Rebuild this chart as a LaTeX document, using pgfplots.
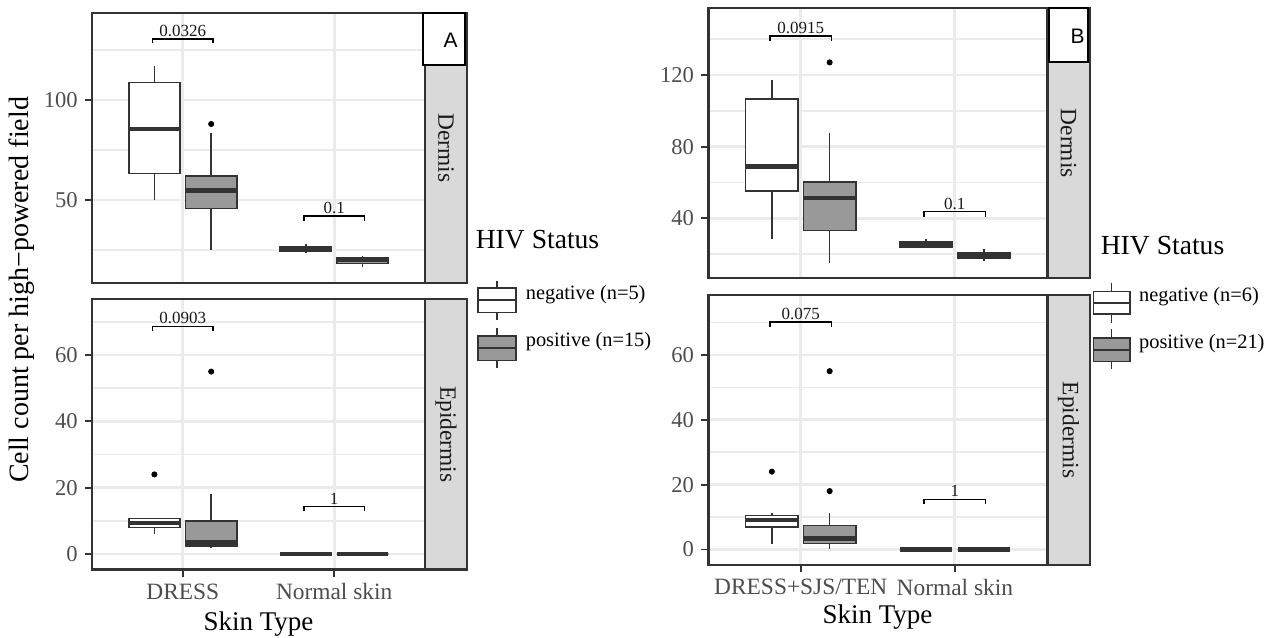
\documentclass[border=0pt]{standalone}
\usepackage{pgfplots}
\pgfplotsset{compat=1.18}
\usepgfplotslibrary{statistics}
\usepackage{fontspec}
\setmainfont{Liberation Serif}
\newfontfamily\sansA{Liberation Sans}
\definecolor{g20}{HTML}{333333}
\definecolor{g30}{HTML}{4D4D4D}
\definecolor{g10}{HTML}{1A1A1A}
\definecolor{g60}{HTML}{999999}
\definecolor{g85}{HTML}{D9D9D9}
\definecolor{g92}{HTML}{EBEBEB}
\tikzset{brl/.style={font=\fontsize{8.5}{8.5}\selectfont, anchor=south, inner sep=1pt, text=g10}}
\pgfplotsset{
  panel/.style={
    scale only axis, width=#1, height=135pt,
    xmin=0.4, xmax=2.6, xtick={1,2},
    axis line style={g20, line width=1.2pt},
    xmajorgrids, ymajorgrids, yminorgrids,
    major grid style={g92, line width=1.4pt},
    minor grid style={g92, line width=0.8pt},
    tick style={g20, line width=0.9pt},
    major tick length=3.6pt,
    minor tick length=0pt,
    tick align=outside,
    tick pos=left,
    /pgf/number format/assume math mode=true,
    yticklabel style={font=\fontsize{11.3}{11.3}\selectfont, text=g30},
    xticklabel style={font=\fontsize{11.7}{11.7}\selectfont, text=g30},
    boxplot/draw direction=y,
    boxplot/whisker extend=0,
    boxplot/box extend=0.34,
    boxplot/every whisker/.style={draw=g20, line width=0.8pt},
    boxplot/every median/.style={draw=g20, line width=2.2pt},
  },
  neg/.style={draw=g20, mark=*, mark size=1.3pt, mark options={fill=black, draw=black, solid},
    boxplot/every box/.style={draw=g20, line width=0.8pt, fill=white}},
  pos/.style={draw=g20, mark=*, mark size=1.3pt, mark options={fill=black, draw=black, solid},
    boxplot/every box/.style={draw=g20, line width=0.8pt, fill=g60}},
  br/.style={black, line width=0.7pt, mark=none},
}
\begin{document}
\begin{tikzpicture}
\useasboundingbox (0,0) rectangle (636.5pt,318.5pt);
%% ---------------- Panel A, Dermis
\begin{axis}[panel=166.5pt, at={(46pt,177pt)}, anchor=south west,
  ymin=8.5, ymax=143.5, ytick={50,100}, minor ytick={25,75,125},
  xticklabels={}, xtick style={draw=none}]
\addplot[neg, boxplot prepared={draw position=0.8125, lower whisker=50, lower quartile=63.3, median=85.5, upper quartile=108.7, upper whisker=117}] coordinates {};
\addplot[pos, boxplot prepared={draw position=1.1875, lower whisker=25, lower quartile=45.7, median=54.7, upper quartile=62, upper whisker=83.7}] table[row sep=\\, y index=0] {data\\ 88\\};
\addplot[neg, boxplot prepared={draw position=1.8125, lower whisker=23.5, lower quartile=24.3, median=25.5, upper quartile=26.6, upper whisker=28}] coordinates {};
\addplot[pos, boxplot prepared={draw position=2.1875, lower whisker=16.7, lower quartile=18.3, median=20, upper quartile=21.2, upper whisker=22}] coordinates {};
\addplot[br] coordinates {(0.8,128.3) (0.8,130.5) (1.2,130.5) (1.2,128.3)};
\addplot[br] coordinates {(1.8,39.7) (1.8,42) (2.2,42) (2.2,39.7)};
\node[brl] at (axis cs:1,130.5) {0.0326};
\node[brl] at (axis cs:2,42) {0.1};
\end{axis}
%% ---------------- Panel A, Epidermis
\begin{axis}[panel=166.5pt, at={(46pt,33.85pt)}, anchor=south west,
  ymin=-4.6, ymax=76.8, ytick={0,20,40,60}, minor ytick={10,30,50,70},
  xticklabels={DRESS,Normal skin}]
\addplot[neg, boxplot prepared={draw position=0.8125, lower whisker=5.9, lower quartile=8.0, median=9.3, upper quartile=10.7, upper whisker=11}] table[row sep=\\, y index=0] {data\\ 24\\};
\addplot[pos, boxplot prepared={draw position=1.1875, lower whisker=1.7, lower quartile=2.4, median=3.5, upper quartile=9.9, upper whisker=18}] table[row sep=\\, y index=0] {data\\ 55\\};
\addplot[neg, boxplot prepared={draw position=1.8125, lower whisker=0, lower quartile=0, median=0, upper quartile=0, upper whisker=0}] coordinates {};
\addplot[pos, boxplot prepared={draw position=2.1875, lower whisker=0, lower quartile=0, median=0, upper quartile=0, upper whisker=0}] coordinates {};
\addplot[br] coordinates {(0.8,67.1) (0.8,68.6) (1.2,68.6) (1.2,67.1)};
\addplot[br] coordinates {(1.8,12.9) (1.8,14.3) (2.2,14.3) (2.2,12.9)};
\node[brl] at (axis cs:1,68.6) {0.0903};
\node[brl] at (axis cs:2,14.3) {1};
\end{axis}
%% ---------------- Panel B, Dermis
\begin{axis}[panel=169.5pt, at={(354.15pt,179.35pt)}, anchor=south west,
  ymin=6.5, ymax=157.2, ytick={40,80,120}, minor ytick={20,60,100,140},
  xticklabels={}, xtick style={draw=none}]
\addplot[neg, boxplot prepared={draw position=0.8125, lower whisker=28.3, lower quartile=55.3, median=68.8, upper quartile=106.6, upper whisker=117.2}] coordinates {};
\addplot[pos, boxplot prepared={draw position=1.1875, lower whisker=14.9, lower quartile=33.1, median=51.2, upper quartile=60.4, upper whisker=87.8}] table[row sep=\\, y index=0] {data\\ 127\\};
\addplot[neg, boxplot prepared={draw position=1.8125, lower whisker=23.3, lower quartile=23.9, median=25.3, upper quartile=26.6, upper whisker=28.3}] coordinates {};
\addplot[pos, boxplot prepared={draw position=2.1875, lower whisker=16, lower quartile=17.6, median=19.3, upper quartile=21, upper whisker=22.7}] coordinates {};
\addplot[br] coordinates {(0.8,139) (0.8,141.8) (1.2,141.8) (1.2,139)};
\addplot[br] coordinates {(1.8,40.5) (1.8,43.7) (2.2,43.7) (2.2,40.5)};
\node[brl] at (axis cs:1,141.8) {0.0915};
\node[brl] at (axis cs:2,43.7) {0.1};
\end{axis}
%% ---------------- Panel B, Epidermis
\begin{axis}[panel=169.5pt, at={(354.15pt,36pt)}, anchor=south west,
  ymin=-4.8, ymax=78.5, ytick={0,20,40,60}, minor ytick={10,30,50,70},
  xticklabels={DRESS+SJS/TEN,Normal skin}]
\addplot[neg, boxplot prepared={draw position=0.8125, lower whisker=1.8, lower quartile=7, median=9, upper quartile=10.5, upper whisker=11.1}] table[row sep=\\, y index=0] {data\\ 24\\};
\addplot[pos, boxplot prepared={draw position=1.1875, lower whisker=0, lower quartile=1.8, median=3.4, upper quartile=7.4, upper whisker=11.3}] table[row sep=\\, y index=0] {data\\ 18\\ 55\\};
\addplot[neg, boxplot prepared={draw position=1.8125, lower whisker=0, lower quartile=0, median=0, upper quartile=0, upper whisker=0}] coordinates {};
\addplot[pos, boxplot prepared={draw position=2.1875, lower whisker=0, lower quartile=0, median=0, upper quartile=0, upper whisker=0}] coordinates {};
\addplot[br] coordinates {(0.8,68.7) (0.8,70.2) (1.2,70.2) (1.2,68.7)};
\addplot[br] coordinates {(1.8,14) (1.8,15.5) (2.2,15.5) (2.2,14)};
\node[brl] at (axis cs:1,70.2) {0.075};
\node[brl] at (axis cs:2,15.5) {1};
\end{axis}
%% ---------------- strips
\begin{scope}[line width=1.2pt]
\draw[g20, fill=g85] (212.5pt,177pt) rectangle (233.5pt,312pt);
\draw[g20, fill=g85] (212.5pt,33.85pt) rectangle (233.5pt,168.85pt);
\draw[g20, fill=g85] (523.65pt,179.35pt) rectangle (545pt,314.35pt);
\draw[g20, fill=g85] (523.65pt,36pt) rectangle (545pt,171pt);
\end{scope}
\node[rotate=-90, text=g10, font=\fontsize{11.7}{11.7}\selectfont] at (223pt,244.5pt) {Dermis};
\node[rotate=-90, text=g10, font=\fontsize{11.7}{11.7}\selectfont] at (223pt,101.35pt) {Epidermis};
\node[rotate=-90, text=g10, font=\fontsize{11.7}{11.7}\selectfont] at (534.3pt,246.85pt) {Dermis};
\node[rotate=-90, text=g10, font=\fontsize{11.7}{11.7}\selectfont] at (534.3pt,103.5pt) {Epidermis};
%% panel letters
\draw[black, fill=white, line width=1pt] (211.5pt,286pt) rectangle (232.5pt,312pt);
\node[font=\sansA\fontsize{10.5}{10.5}\selectfont] at (225.25pt,298.25pt) {A};
\draw[black, fill=white, line width=1pt] (524.67pt,287.65pt) rectangle (543.83pt,314.35pt);
\node[font=\sansA\fontsize{10.5}{10.5}\selectfont] at (538.75pt,300.17pt) {B};
%% axis titles
\node[rotate=90, font=\fontsize{14}{14}\selectfont] at (11pt,173.5pt) {Cell count per high−powered field};
\node[anchor=base, font=\fontsize{13.5}{13.5}\selectfont] at (129.25pt,3.5pt) {Skin Type};
\node[anchor=base, font=\fontsize{13.5}{13.5}\selectfont] at (438.75pt,6.85pt) {Skin Type};
%% legends
\begin{scope}[g20, line width=0.8pt]
\node[anchor=base west, font=\fontsize{13.8}{13.8}\selectfont, black, inner sep=0pt] at (237.5pt,194.35pt) {HIV Status};
\draw (248.5pt,178.15pt) -- (248.5pt,174.35pt);
\draw[fill=white] (239pt,162.15pt) rectangle (258pt,174.35pt);
\draw (239pt,168.5pt) -- (258pt,168.5pt);
\draw (248.5pt,162.15pt) -- (248.5pt,158.5pt);
\draw (248.5pt,154.35pt) -- (248.5pt,150.5pt);
\draw[fill=g60] (239pt,138.15pt) rectangle (258pt,150.5pt);
\draw (239pt,144.35pt) -- (258pt,144.35pt);
\draw (248.5pt,138.15pt) -- (248.5pt,134.35pt);
\node[anchor=base west, font=\fontsize{10.2}{10.2}\selectfont, black, inner sep=0pt] at (262.5pt,168.5pt) {negative (n=5)};
\node[anchor=base west, font=\fontsize{10.2}{10.2}\selectfont, black, inner sep=0pt] at (262.5pt,145pt) {positive (n=15)};
%
\node[anchor=base west, font=\fontsize{13.8}{13.8}\selectfont, black, inner sep=0pt] at (550pt,191pt) {HIV Status};
\draw (555.83pt,177.15pt) -- (555.83pt,172.65pt);
\draw[fill=white] (546.67pt,161.5pt) rectangle (565pt,172.65pt);
\draw (546.67pt,166.85pt) -- (565pt,166.85pt);
\draw (555.83pt,161.5pt) -- (555.83pt,157.15pt);
\draw (555.83pt,153.85pt) -- (555.83pt,149.35pt);
\draw[fill=g60] (546.67pt,137.65pt) rectangle (565pt,149.35pt);
\draw (546.67pt,143.5pt) -- (565pt,143.5pt);
\draw (555.83pt,137.65pt) -- (555.83pt,133.85pt);
\node[anchor=base west, font=\fontsize{10.2}{10.2}\selectfont, black, inner sep=0pt] at (569.15pt,167.65pt) {negative (n=6)};
\node[anchor=base west, font=\fontsize{10.2}{10.2}\selectfont, black, inner sep=0pt] at (569.15pt,144.35pt) {positive (n=21)};
\end{scope}
\end{tikzpicture}
\end{document}
